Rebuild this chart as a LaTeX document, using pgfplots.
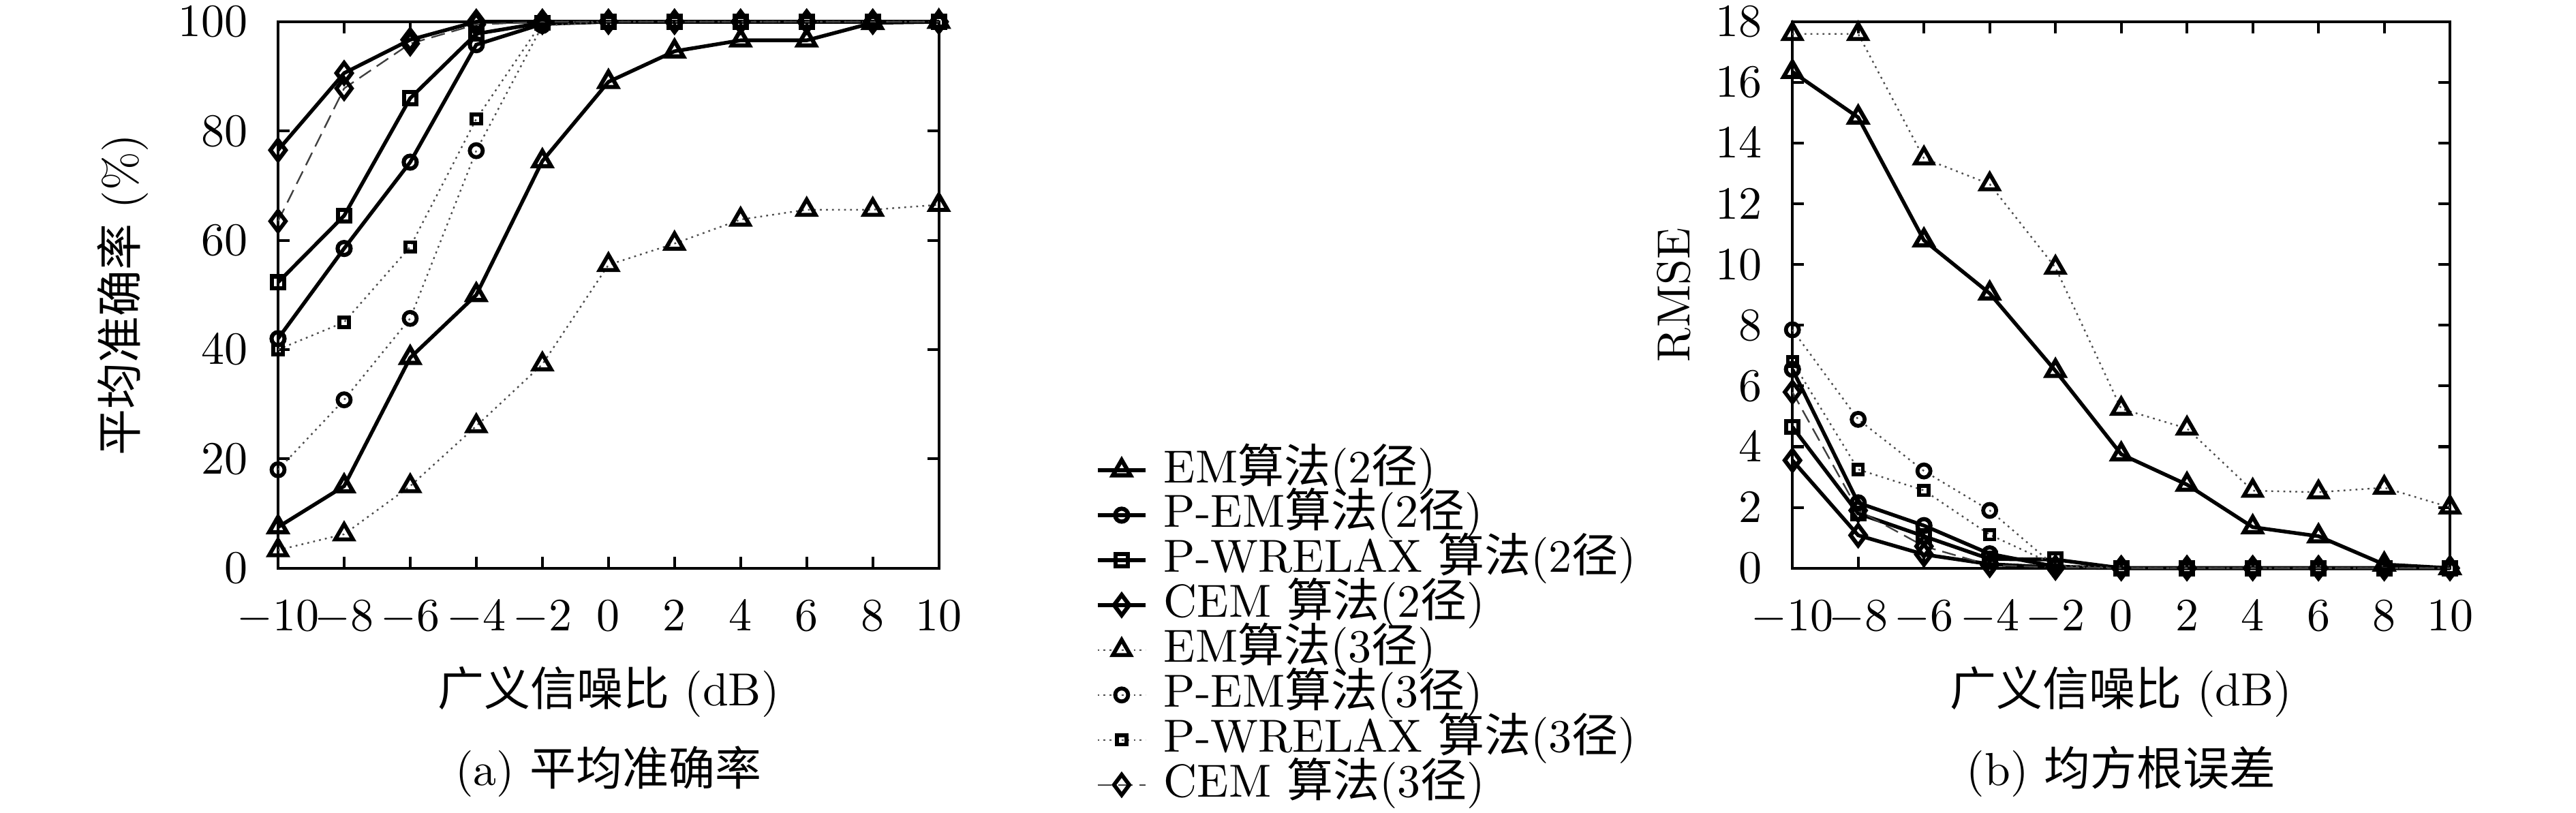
\documentclass[border=0pt]{standalone}
\usepackage{fontspec}
\usepackage{pgfplots}
\usepackage{pgfplotstable}
\pgfplotsset{compat=1.18}
\newfontfamily\cjk{Noto Sans CJK SC}

\pgfplotstableread{
x em2 pem2 pw2 cem2 em3 pem3 pw3 cem3
-10 7.5 42 52.3 76.5 3.3 18 40 63.5
-8 15 58.5 64.5 90.6 6.2 30.8 45 87.8
-6 38.5 74.3 86 96.7 15 45.7 58.8 96
-4 50 95.8 97.8 100 26 76.4 82.2 99.5
-2 74.5 99.6 99.8 100 37.3 99.3 100 100
0 89 100 100 100 55.5 100 100 100
2 94.6 100 100 100 59.4 100 100 100
4 96.6 100 100 100 63.8 100 100 100
6 96.6 100 100 100 65.6 100 100 100
8 99.8 100 100 100 65.6 100 100 100
10 100 100 100 100 66.5 100 100 100
}\acc

\pgfplotstableread{
x em2 pem2 pw2 cem2 em3 pem3 pw3 cem3
-10 16.35 6.55 4.65 3.55 17.6 7.85 6.8 5.8
-8 14.85 2.15 1.8 1.08 17.6 4.9 3.25 1.9
-6 10.8 1.4 1.05 0.45 13.5 3.2 2.56 0.72
-4 9.05 0.47 0.3 0.13 12.65 1.9 1.1 0.1
-2 6.5 0.05 0.28 0.02 9.9 0.05 0.1 0.02
0 3.75 0 0 0 5.25 0 0 0
2 2.75 0 0 0 4.6 0 0 0
4 1.35 0 0 0 2.55 0 0 0
6 1.05 0 0 0 2.5 0 0 0
8 0.12 0 0 0 2.65 0 0 0
10 0 0 0 0 2.0 0 0 0
}\rmse

\pgfplotsset{
  common/.style={
    scale only axis,
    height=117.9pt,
    xmin=-10, xmax=10,
    xtick={-10,-8,...,10},
    tick align=inside,
    major tick length=2.5pt,
    axis line style={line width=0.6pt},
    every tick/.style={black, line width=0.6pt},
    clip=false,
    xticklabel style={yshift=-3.5pt},
    yticklabel style={xshift=-3pt},
    xlabel={{\cjk 广义信噪比} (dB)},
    xlabel style={at={(axis description cs:0.5,-0.226)}, anchor=center},
    legend image code/.code={\draw[mark repeat=2,mark phase=2] plot coordinates {(0pt,0pt) (5.2pt,0pt) (10.4pt,0pt)};},
  },
  s2/.style={black, line width=0.8pt, mark options={solid, line width=0.9pt, fill=white}},
  s3/.style={black!70, line width=0.35pt, dash pattern=on 0.4pt off 0.9pt, mark options={solid, black, line width=0.85pt, fill=white}},
  s3c/.style={black!75, line width=0.35pt, dash pattern=on 3pt off 1.5pt, mark options={solid, black, line width=0.85pt, fill=white}},
}

\begin{document}
\begin{tikzpicture}
\useasboundingbox (0,0) rectangle (555.9pt,175.4pt);

\begin{axis}[common,
  at={(60pt,52.8pt)}, anchor=south west,
  width=142.6pt,
  ymin=0, ymax=100, ytick={0,20,...,100},
  ylabel={{\cjk 平均准确率} (\%)},
  ylabel style={at={(axis description cs:-0.235,0.5)}, anchor=center},
  legend cell align=left,
  legend style={draw=none, fill=none, at={(1.236,0.222)}, anchor=north west,
    inner sep=0pt, row sep=0pt,
    nodes={inner sep=0pt, text height=7.5pt, text depth=2.2pt},
    /tikz/column 1/.style={column sep=3.5pt}},
]
\addplot[s2, mark=triangle, mark size=2.2pt] table[x=x,y=em2] {\acc};
\addlegendentry{EM{\cjk 算法}(2{\cjk 径})}
\addplot[s2, mark=o, mark size=1.4pt] table[x=x,y=pem2] {\acc};
\addlegendentry{P-EM{\cjk 算法}(2{\cjk 径})}
\addplot[s2, mark=square, mark size=1.3pt] table[x=x,y=pw2] {\acc};
\addlegendentry{P-WRELAX {\cjk 算法}(2{\cjk 径})}
\addplot[s2, mark=diamond, mark size=2.2pt] table[x=x,y=cem2] {\acc};
\addlegendentry{CEM {\cjk 算法}(2{\cjk 径})}
\addplot[s3, mark=triangle, mark size=2.2pt] table[x=x,y=em3] {\acc};
\addlegendentry{EM{\cjk 算法}(3{\cjk 径})}
\addplot[s3, mark=o, mark size=1.4pt] table[x=x,y=pem3] {\acc};
\addlegendentry{P-EM{\cjk 算法}(3{\cjk 径})}
\addplot[s3, mark=square, mark size=1.0pt] table[x=x,y=pw3] {\acc};
\addlegendentry{P-WRELAX {\cjk 算法}(3{\cjk 径})}
\addplot[s3c, mark=diamond, mark size=2.2pt] table[x=x,y=cem3] {\acc};
\addlegendentry{CEM {\cjk 算法}(3{\cjk 径})}
\node at (axis description cs:0.5,-0.373) {(a) {\cjk 平均准确率}};
\end{axis}

\begin{axis}[common,
  at={(386.8pt,52.8pt)}, anchor=south west,
  width=141.9pt,
  ymin=0, ymax=18, ytick={0,2,...,18},
  ylabel={RMSE},
  ylabel style={at={(axis description cs:-0.18,0.5)}, anchor=center},
]
\addplot[s2, mark=triangle, mark size=2.2pt] table[x=x,y=em2] {\rmse};
\addplot[s2, mark=o, mark size=1.4pt] table[x=x,y=pem2] {\rmse};
\addplot[s2, mark=square, mark size=1.3pt] table[x=x,y=pw2] {\rmse};
\addplot[s2, mark=diamond, mark size=2.2pt] table[x=x,y=cem2] {\rmse};
\addplot[s3, mark=triangle, mark size=2.2pt] table[x=x,y=em3] {\rmse};
\addplot[s3, mark=o, mark size=1.4pt] table[x=x,y=pem3] {\rmse};
\addplot[s3, mark=square, mark size=1.0pt] table[x=x,y=pw3] {\rmse};
\addplot[s3c, mark=diamond, mark size=2.2pt] table[x=x,y=cem3] {\rmse};
\node at (axis description cs:0.5,-0.373) {(b) {\cjk 均方根误差}};
\end{axis}
\end{tikzpicture}
\end{document}
